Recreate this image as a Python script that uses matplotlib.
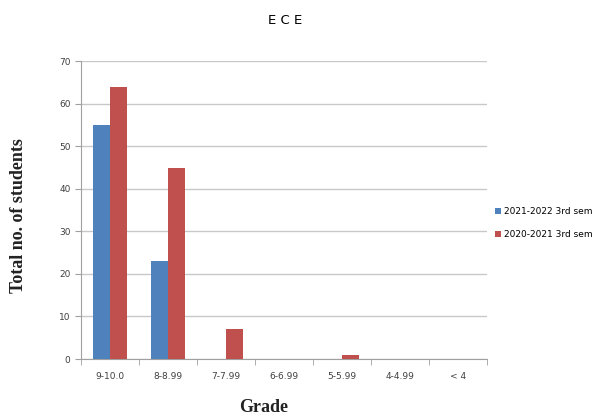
import numpy as np
import matplotlib.pyplot as plt

grades = ['9-10.0', '8-8.99', '7-7.99', '6-6.99', '5-5.99', '4-4.99', '< 4']
sem_2021 = [55, 23, 0, 0, 0, 0, 0]
sem_2020 = [64, 45, 7, 0, 1, 0, 0]
labels = ['2021-2022 3rd sem', '2020-2021 3rd sem']

fig = plt.figure(figsize=(6.09, 4.16), dpi=100)
ax = fig.add_axes([0.133, 0.137, 0.667, 0.716])

x = np.arange(len(grades))
w = 0.29
ax.bar(x - w / 2, sem_2021, w, color='#4F81BD', label=labels[0], zorder=3)
ax.bar(x + w / 2, sem_2020, w, color='#C0504D', label=labels[1], zorder=3)

ax.set_xlim(-0.5, len(grades) - 0.5)
ax.set_ylim(0, 70)
ax.set_yticks(range(0, 71, 10))
ax.set_xticks(x)
ax.set_xticklabels(grades)
ax.set_xticks(np.arange(-0.5, len(grades), 1), minor=True)
ax.tick_params(axis='x', which='major', length=0, labelsize=6.5, colors='#404040', pad=9)
ax.tick_params(axis='x', which='minor', length=4, color='#a0a0a0')
ax.tick_params(axis='y', length=4, color='#a0a0a0', labelsize=6.5, colors='#404040')
ax.grid(axis='y', color='#c8c8c8', linewidth=1, zorder=0)

for s in ['top', 'right']:
    ax.spines[s].set_visible(False)
for s in ['left', 'bottom']:
    ax.spines[s].set_color('#a0a0a0')

fig.text(0.468, 0.95, 'E C E', fontsize=9.5, ha='center', va='center')
ax.set_ylabel('Total no. of students', family='Liberation Serif', fontweight='bold', fontsize=13, color='#222222')
ax.yaxis.set_label_coords(-0.133, 0.48)
ax.set_xlabel('Grade', family='Liberation Serif', fontweight='bold', fontsize=13, color='#222222')
ax.xaxis.set_label_coords(0.45, -0.135)

ax.legend(loc='center left', bbox_to_anchor=(1.0, 0.456), frameon=False, fontsize=6.5,
          handlelength=0.6, handleheight=0.6, handletextpad=0.4, labelspacing=1.55)

fig.savefig('out.png', dpi=100)
